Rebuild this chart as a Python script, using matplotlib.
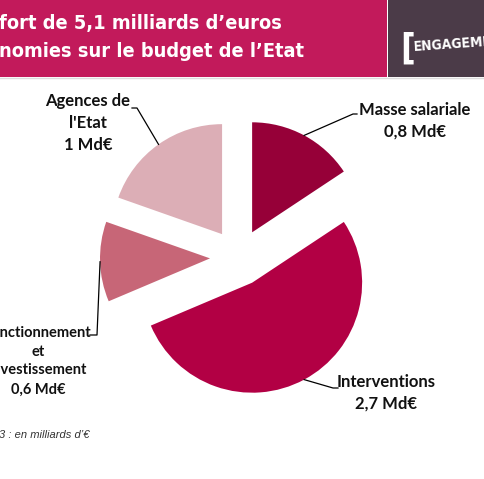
import numpy as np
import matplotlib.pyplot as plt
from matplotlib.patches import Rectangle

# data
categories = ['Masse salariale', 'Interventions', 'Fonctionnement\net\nInvestissement', "Agences de\nl'Etat"]
values = [0.8, 2.7, 0.6, 1.0]
value_labels = ['0,8 Md€', '2,7 Md€', '0,6 Md€', '1 Md€']
colors = ['#960038', '#b20044', '#c76677', '#dcaeb6']

title_lines = ["fort de 5,1 milliards d\u2019euros", "nomies sur le budget de l\u2019Etat"]
note = "PLF 2013 : en milliards d\u2019\u20ac"
badge = "ENGAGEMENTS"

W, H = 485, 479
fig = plt.figure(figsize=(W / 100, H / 100), dpi=100)

# pie in its own square axes, 110 px radius
cx, cy, rad, half = 238.6, 257.5, 110, 150
pax = fig.add_axes([(cx - half) / W, (H - cy - half) / H, 2 * half / W, 2 * half / H])
wedges, _ = pax.pie(values, colors=colors, startangle=90, counterclock=False,
                    explode=[0.26] * len(values), radius=1,
                    wedgeprops=dict(linewidth=0))
L = half / rad
pax.set_xlim(-L, L)
pax.set_ylim(-L, L)
pax.set_facecolor('none')
pax.axis('off')

# overlay in pixel coordinates for header, labels and leaders
ov = fig.add_axes([0, 0, 1, 1])
ov.set_xlim(0, W)
ov.set_ylim(H, 0)
ov.set_facecolor('none')
ov.axis('off')

head = dict(color='white', fontweight='bold', family='DejaVu Sans', stretch='condensed')

# header band
ov.add_patch(Rectangle((0, 0), 387, 77, color='#c21a5b', lw=0))
ov.add_patch(Rectangle((388, 0), W - 388, 77, color='#4b3b48', lw=0))
ov.plot([0, W], [78, 78], color='#dddddd', lw=1)
ov.text(-1, 23, title_lines[0], fontsize=14.3, va='center', ha='left', **head)
ov.text(-1, 51, title_lines[1], fontsize=14.3, va='center', ha='left', **head)
ov.text(400, 49, '[', fontsize=26, va='center', ha='left', **head)
ov.text(414, 47, badge, fontsize=10, va='center', ha='left', rotation=4,
        rotation_mode='anchor', **head)

# labels with leader lines
label_pos = [(415, 121), (386, 393), (38, 361), (88, 123)]
sizes = [12, 12, 10.5, 12]
elbows = [((353, 114), (357, 114)), ((333, 388), (338, 388)),
          ((97, 335), (90, 335)), ((137, 108), (132, 108))]
to_ov = ov.transData.inverted()
for w, cat, val, pos, elb, fs in zip(wedges, categories, value_labels, label_pos, elbows, sizes):
    mid = np.deg2rad((w.theta1 + w.theta2) / 2)
    px = w.center[0] + w.r * np.cos(mid)
    py = w.center[1] + w.r * np.sin(mid)
    ax_, ay_ = to_ov.transform(pax.transData.transform((px, py)))
    xs = [ax_, elb[0][0], elb[1][0]]
    ys = [ay_, elb[0][1], elb[1][1]]
    ov.plot(xs, ys, color='black', lw=0.9)
    ov.text(pos[0], pos[1], f"{cat}\n{val}", ha='center', va='center',
            fontsize=fs, fontweight='bold', family='Lato', color='#111111',
            linespacing=1.45)

ov.text(90, 435, note, ha='right', va='center', fontsize=8, style='italic',
        family='Liberation Sans', color='#333333')

fig.savefig('out.png', dpi=100)
